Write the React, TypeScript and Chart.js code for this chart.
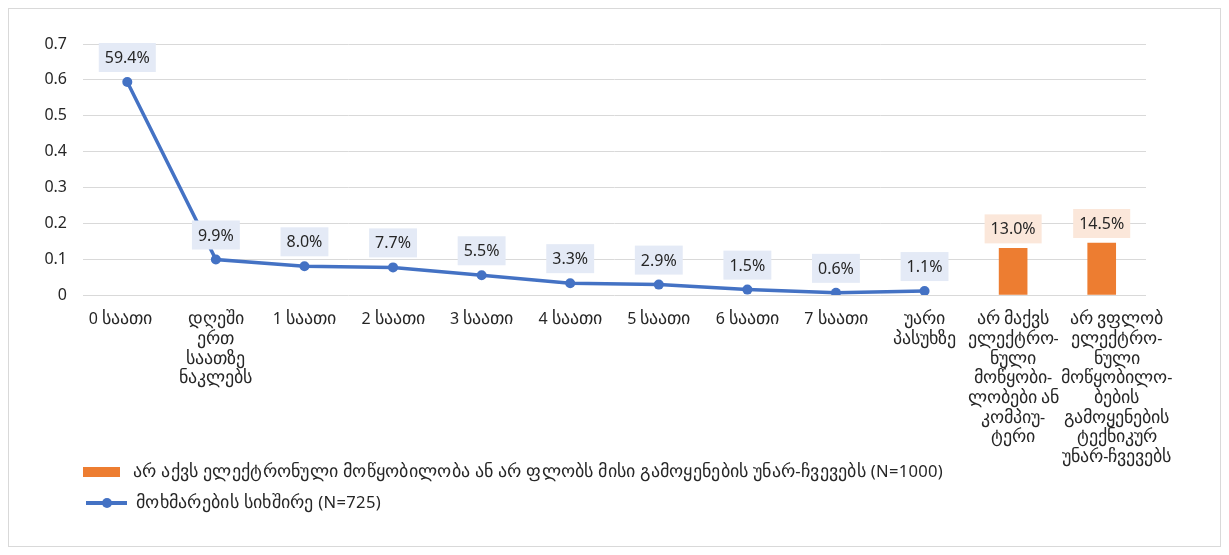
import React, { useEffect, useRef } from "react";
import { Chart, registerables } from "chart.js";

Chart.register(...registerables);

const categories: (string | string[])[] = [
  "0 საათი",
  ["დღეში", "ერთ", "საათზე", "ნაკლებს"],
  "1 საათი",
  "2 საათი",
  "3 საათი",
  "4 საათი",
  "5 საათი",
  "6 საათი",
  "7 საათი",
  ["უარი", "პასუხზე"],
  ["არ მაქვს", "ელექტრო-", "ნული", "მოწყობი-", "ლობები ან", "კომპიუ-", "ტერი"],
  ["არ ვფლობ", "ელექტრო-", "ნული", "მოწყობილო-", "ბების", "გამოყენების", "ტექნიკურ", "უნარ-ჩვევებს"],
];

const usageValues: (number | null)[] = [0.594, 0.099, 0.08, 0.077, 0.055, 0.033, 0.029, 0.015, 0.006, 0.011, null, null];
const noAccessValues: (number | null)[] = [null, null, null, null, null, null, null, null, null, null, 0.13, 0.145];

const yTicks = [0, 0.1, 0.2, 0.3, 0.4, 0.5, 0.6, 0.7];

const barLabel = "არ აქვს ელექტრონული მოწყობილობა ან არ ფლობს მისი გამოყენების უნარ-ჩვევებს (N=1000)";
const lineLabel = "მოხმარების სიხშირე (N=725)";

const BLUE = "#4472C4";
const ORANGE = "#ED7D31";
const BLUE_BOX = "#E4EAF6";
const ORANGE_BOX = "#FBE7DA";
const TEXT = "#262626";
const FONT = "'Noto Sans', GeoWide, 'DejaVu Sans', sans-serif";

// Georgian glyphs come from a local font, enlarged a little to sit well beside Noto Sans digits
const fontCss = `@font-face {
  font-family: 'GeoWide';
  src: local('DejaVu Sans');
  unicode-range: U+10A0-10FF, U+1C90-1CBF, U+2D00-2D2F;
  size-adjust: 110%;
}`;

// Percentage tags with a tinted box above each point / bar
const valueTags = {
  id: "valueTags",
  afterDatasetsDraw(chart: any) {
    const ctx = chart.ctx;
    ctx.save();
    ctx.font = `16px ${FONT}`;
    ctx.textAlign = "center";
    ctx.textBaseline = "middle";
    chart.data.datasets.forEach((ds: any, di: number) => {
      const meta = chart.getDatasetMeta(di);
      const isBar = ds.type === "bar";
      meta.data.forEach((el: any, i: number) => {
        const v = ds.data[i];
        if (v === null || v === undefined) return;
        const text = (v * 100).toFixed(1) + "%";
        const w = ctx.measureText(text).width + 12;
        const h = 29;
        const bottom = isBar ? el.y - 5 : el.y - 10;
        ctx.fillStyle = isBar ? ORANGE_BOX : BLUE_BOX;
        ctx.fillRect(el.x - w / 2, bottom - h, w, h);
        ctx.fillStyle = TEXT;
        ctx.fillText(text, el.x, bottom - h / 2 + 1);
      });
    });
    ctx.restore();
  },
};

// Edge category labels are nudged outward so the wide wrapped text keeps clear of its neighbours
const edgeLabelNudge = {
  id: "edgeLabelNudge",
  beforeDraw(chart: any) {
    const scale = chart.scales.x;
    const items = scale.getLabelItems(chart.chartArea);
    const shift = (item: any, dx: number) => {
      if (!item || item._nudged) return;
      item.options.translation = [item.options.translation[0] + dx, item.options.translation[1]];
      item._nudged = true;
    };
    shift(items[0], -7);
    shift(items[items.length - 1], 15);
  },
};

// Stacked legend in the lower-left corner
const stackedLegend = {
  id: "stackedLegend",
  afterDraw(chart: any) {
    const ctx = chart.ctx;
    const left = chart.chartArea.left;
    ctx.save();
    ctx.font = `16.6px ${FONT}`;
    ctx.letterSpacing = "0.3px";
    ctx.textAlign = "left";
    ctx.textBaseline = "middle";

    const y1 = 463;
    ctx.fillStyle = ORANGE;
    ctx.fillRect(left, y1 - 5, 37, 10);
    ctx.fillStyle = TEXT;
    ctx.fillText(barLabel, left + 50, y1);

    const y2 = 494;
    ctx.strokeStyle = BLUE;
    ctx.lineWidth = 4;
    ctx.beginPath();
    ctx.moveTo(left + 3, y2);
    ctx.lineTo(left + 44, y2);
    ctx.stroke();
    ctx.fillStyle = BLUE;
    ctx.beginPath();
    ctx.arc(left + 24, y2, 5, 0, Math.PI * 2);
    ctx.fill();
    ctx.fillStyle = TEXT;
    ctx.fillText(lineLabel, left + 53, y2);
    ctx.restore();
  },
};

export default function App() {
  const ref = useRef<HTMLCanvasElement>(null);

  useEffect(() => {
    let chart: Chart | null = null;
    let cancelled = false;

    const build = () => {
      if (cancelled || !ref.current) return;
      chart = new Chart(ref.current, {
        type: "bar",
        data: {
          labels: categories,
          datasets: [
            {
              type: "line",
              label: lineLabel,
              data: usageValues,
              borderColor: BLUE,
              backgroundColor: BLUE,
              borderWidth: 3.5,
              pointRadius: 5,
              pointBackgroundColor: BLUE,
              pointBorderWidth: 0,
              tension: 0,
              spanGaps: false,
              order: 0,
            } as any,
            {
              type: "bar",
              label: barLabel,
              data: noAccessValues,
              backgroundColor: ORANGE,
              barThickness: 28,
              skipNull: true,
              order: 1,
            } as any,
          ],
        },
        options: {
          animation: false,
          responsive: true,
          maintainAspectRatio: false,
          layout: { padding: { top: 35, right: 74, left: 0, bottom: 0 } },
          plugins: {
            legend: { display: false },
            tooltip: { enabled: false },
          },
          scales: {
            x: {
              grid: { display: false, drawTicks: false },
              border: { display: false },
              ticks: {
                autoSkip: false,
                maxRotation: 0,
                minRotation: 0,
                padding: 15,
                color: TEXT,
                font: { family: FONT, size: 16, lineHeight: 1.23 },
              },
              afterFit(scale: any) {
                scale.height = 251;
              },
            },
            y: {
              min: 0,
              max: 0.7,
              afterBuildTicks(scale: any) {
                scale.ticks = yTicks.map((v) => ({ value: v }));
              },
              grid: { color: "#d9d9d9", lineWidth: 1, drawTicks: false },
              border: { display: false },
              ticks: {
                padding: 16,
                color: TEXT,
                font: { family: FONT, size: 16 },
                callback: (v: any) => String(Math.round(Number(v) * 10) / 10),
              },
              afterFit(scale: any) {
                scale.width = 74;
              },
            },
          },
        },
        plugins: [valueTags, edgeLabelNudge, stackedLegend],
      });
    };

    const fonts: any = (document as any).fonts;
    if (fonts && fonts.load) {
      fonts
        .load("16px GeoWide", "ა")
        .catch(() => undefined)
        .then(() => build());
    } else {
      build();
    }

    return () => {
      cancelled = true;
      if (chart) chart.destroy();
    };
  }, []);

  return (
    <div style={{ border: "1px solid #d9d9d9", height: 537, position: "relative", background: "#fff" }}>
      <style>{fontCss}</style>
      <canvas ref={ref} />
    </div>
  );
}
